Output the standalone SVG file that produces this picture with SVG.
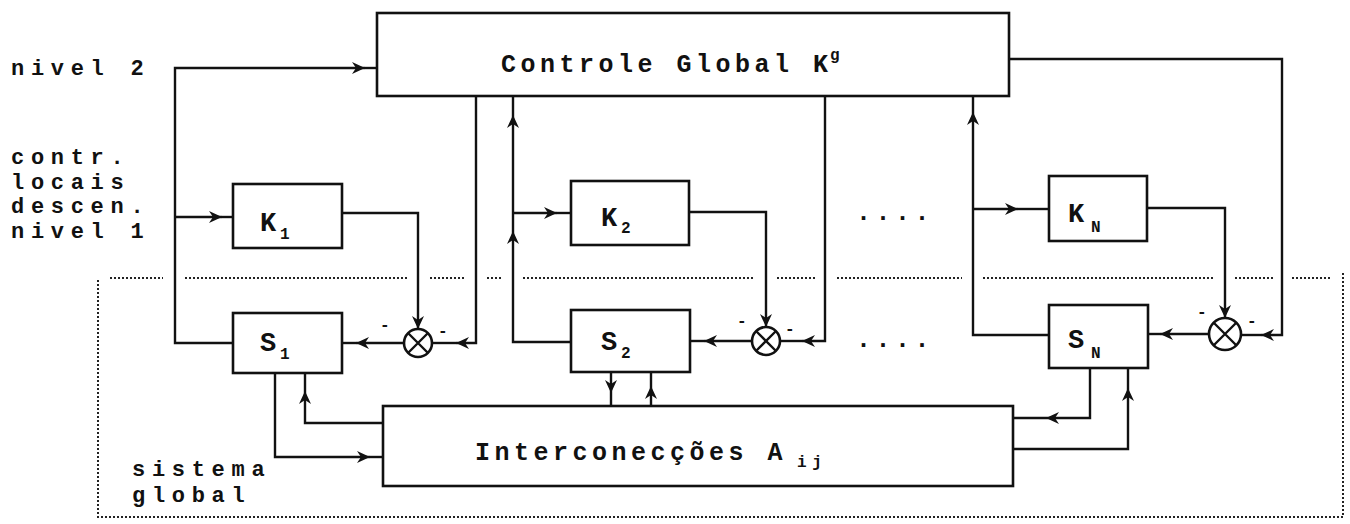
<svg xmlns="http://www.w3.org/2000/svg" width="1350" height="524" viewBox="0 0 1350 524">
<defs>
<style>
.box{fill:none;stroke:#111;stroke-width:2.6}
.ln{fill:none;stroke:#111;stroke-width:2.4}
.arr{fill:none;stroke:#111;stroke-width:2.4;marker-end:url(#ah)}
.dot{fill:none;stroke:#222;stroke-width:2;stroke-dasharray:2 2}
.t{font-family:"Liberation Mono",monospace;font-weight:bold;font-size:25px;letter-spacing:4.5px;fill:#111}
.side{font-family:"Liberation Mono",monospace;font-weight:bold;font-size:22px;letter-spacing:6.7px;fill:#111}
.lab{font-family:"Liberation Mono",monospace;font-weight:bold;font-size:27px;fill:#111}
.sub{font-family:"Liberation Mono",monospace;font-weight:bold;font-size:16px;fill:#111}
.sign{font-family:"Liberation Mono",monospace;font-weight:bold;font-size:16px;fill:#111}
</style>
<marker id="ah" markerUnits="userSpaceOnUse" markerWidth="14" markerHeight="12" refX="13" refY="6" orient="auto">
<path d="M0,0 L13,6 L0,12 L4,6 Z" fill="#111"/>
</marker>
</defs>
<rect width="1350" height="524" fill="#fff"/>

<g id="labels">
<text class="side" x="11" y="75">nivel 2</text>
<text class="side" x="11" y="164">contr.</text>
<text class="side" x="11" y="189">locais</text>
<text class="side" x="11" y="213">descen.</text>
<text class="side" x="11" y="238">nivel 1</text>
<text class="side" x="132" y="476">sistema</text>
<text class="side" x="132" y="502">global</text>
<text class="t" x="856" y="220">....</text>
<text class="t" x="856" y="347">....</text>
</g>

<g id="global-system-boundary">
<path class="dot" d="M110,278 H163 M185,278 H408 M430,278 H465 M487,278 H503 M523,278 H753 M777,278 H815 M837,278 H962 M983,278 H1213 M1235,278 H1273 M1292,278 H1330"/>
<path class="dot" d="M98,280 V517 H1343 V272"/>
</g>

<g id="controle-global">
<rect class="box" x="377" y="13" width="632" height="83"/>
<text class="t" x="501" y="72">Controle Global K</text>
<text class="sub" x="830" y="60" font-size="17">g</text>
</g>

<g id="K1">
<rect class="box" x="233" y="184" width="109" height="64"/>
<text class="lab" x="260" y="231">K</text>
<text class="sub" x="280" y="239">1</text>
</g>
<g id="S1">
<rect class="box" x="233" y="313" width="109" height="60"/>
<text class="lab" x="260" y="351">S</text>
<text class="sub" x="280" y="359">1</text>
</g>
<g id="K2">
<rect class="box" x="571" y="181" width="118" height="64"/>
<text class="lab" x="601" y="226">K</text>
<text class="sub" x="621" y="233">2</text>
</g>
<g id="S2">
<rect class="box" x="571" y="310" width="119" height="62"/>
<text class="lab" x="601" y="350">S</text>
<text class="sub" x="621" y="358">2</text>
</g>
<g id="KN">
<rect class="box" x="1049" y="176" width="98" height="65"/>
<text class="lab" x="1068" y="222">K</text>
<text class="sub" x="1091" y="232">N</text>
</g>
<g id="SN">
<rect class="box" x="1049" y="305" width="99" height="63"/>
<text class="lab" x="1068" y="348">S</text>
<text class="sub" x="1091" y="358">N</text>
</g>
<g id="interconeccoes">
<rect class="box" x="383" y="406" width="630" height="80"/>
<text class="t" x="475" y="460" letter-spacing="5">Interconecções A</text>
<text class="sub" x="797" y="467" letter-spacing="-2">i j</text>
</g>

<g id="sum1">
<circle class="box" cx="418" cy="343" r="14"/>
<path class="ln" d="M408,333 L428,353 M428,333 L408,353"/>
<text class="sign" x="380" y="330">-</text>
<text class="sign" x="438" y="336">-</text>
</g>
<g id="sum2">
<circle class="box" cx="766" cy="341" r="14"/>
<path class="ln" d="M756,331 L776,351 M776,331 L756,351"/>
<text class="sign" x="737" y="326">-</text>
<text class="sign" x="785" y="334">-</text>
</g>
<g id="sumN">
<circle class="box" cx="1225" cy="334" r="16"/>
<path class="ln" d="M1214,323 L1236,345 M1236,323 L1214,345"/>
<text class="sign" x="1197" y="317">-</text>
<text class="sign" x="1247" y="326">-</text>
</g>

<g id="connectors">
<path class="arr" d="M233,343 H175 V68 H365"/>
<path class="ln" d="M365,68 H377"/>
<path class="arr" d="M175,217 H222"/>
<path class="ln" d="M222,217 H233"/>
<path class="arr" d="M342,213 H418 V329"/>
<path class="arr" d="M404,343 H356"/>
<path class="ln" d="M356,343 H342"/>
<path class="arr" d="M476,96 V343 H456"/>
<path class="ln" d="M456,343 H432"/>
<path class="arr" d="M571,342 H513 V231"/>
<path class="arr" d="M513,231 V115"/>
<path class="ln" d="M513,115 V96"/>
<path class="arr" d="M513,213 H557"/>
<path class="ln" d="M557,213 H571"/>
<path class="arr" d="M689,212 H766 V327"/>
<path class="arr" d="M752,341 H704"/>
<path class="ln" d="M704,341 H690"/>
<path class="arr" d="M825,96 V341 H802"/>
<path class="ln" d="M802,341 H780"/>
<path class="arr" d="M1049,335 H973 V112"/>
<path class="ln" d="M973,112 V96"/>
<path class="arr" d="M973,209 H1018"/>
<path class="ln" d="M1018,209 H1049"/>
<path class="arr" d="M1147,208 H1225 V318"/>
<path class="arr" d="M1209,334 H1160"/>
<path class="ln" d="M1160,334 H1148"/>
<path class="arr" d="M1009,59 H1282 V335 H1261"/>
<path class="ln" d="M1261,335 H1241"/>
<path class="arr" d="M275,373 V457 H370"/>
<path class="ln" d="M370,457 H383"/>
<path class="arr" d="M383,423 H305 V391"/>
<path class="ln" d="M305,391 V373"/>
<path class="arr" d="M611,372 V393"/>
<path class="ln" d="M611,393 V406"/>
<path class="arr" d="M651,406 V386"/>
<path class="ln" d="M651,386 V372"/>
<path class="arr" d="M1090,368 V418 H1046"/>
<path class="ln" d="M1046,418 H1013"/>
<path class="arr" d="M1013,449 H1128 V388"/>
<path class="ln" d="M1128,388 V368"/>
</g>
</svg>
